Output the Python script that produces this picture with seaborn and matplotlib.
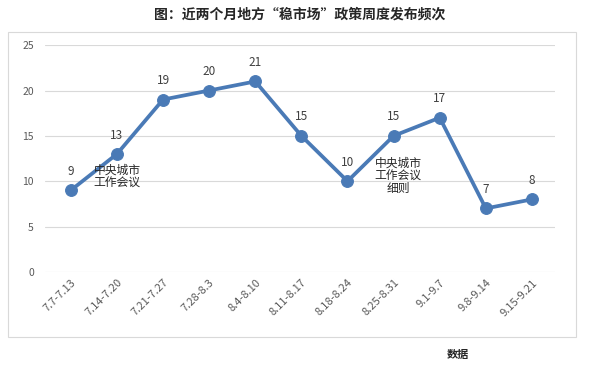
"""Weekly count of local 'stabilise the market' policies over the last two months."""

import matplotlib.pyplot as plt
import pandas as pd
import seaborn as sns
from matplotlib.patches import Rectangle

weeks = ["7.7-7.13", "7.14-7.20", "7.21-7.27", "7.28-8.3", "8.4-8.10", "8.11-8.17",
         "8.18-8.24", "8.25-8.31", "9.1-9.7", "9.8-9.14", "9.15-9.21"]
counts = [9, 13, 19, 20, 21, 15, 10, 15, 17, 7, 8]
y_ticks = [0, 5, 10, 15, 20, 25]

# notes placed in the chart, (x position by week index, y value, text)
notes = [(1, 10.5, "中央城市\n工作会议"), (7.1, 10.6, "中央城市\n工作会议\n细则")]

df = pd.DataFrame({"week": range(len(weeks)), "count": counts})

sns.set_theme(style="white")
plt.rcParams["font.family"] = ["Noto Sans CJK SC", "DejaVu Sans"]

fig = plt.figure(figsize=(6, 3.67), dpi=100)

# light frame around the chart
frame = Rectangle((8 / 600, 1 - 337 / 367), 568 / 600, 305 / 367,
                  transform=fig.transFigure, facecolor="white",
                  edgecolor="#d9d9d9", lw=0.8, zorder=-1)
fig.patches.append(frame)

ax = fig.add_axes([0.075, 0.259, 0.85, 0.618])
ax.set_zorder(2)
ax.patch.set_alpha(0)

line_color = "#4a7ab6"
sns.lineplot(data=df, x="week", y="count", ax=ax, color=line_color, lw=2.7,
             marker="o", markersize=8.5, markeredgecolor=line_color, zorder=3)

for i, v in enumerate(counts):
    ax.annotate(str(v), (i, v), xytext=(0, 9), textcoords="offset points",
                ha="center", va="bottom", fontsize=8.5, color="#404040")

for x, y, txt in notes:
    ax.text(x, y, txt, ha="center", va="center", fontsize=8.5, color="#262626",
            linespacing=1.0, zorder=4)

ax.set_xlim(-0.56, 10.5)
ax.set_ylim(0, 25)
ax.set_yticks(y_ticks)
ax.set_xticks(range(len(weeks)))
ax.set_xticklabels(weeks, rotation=45, ha="right", rotation_mode="anchor",
                   fontsize=8, color="#595959")
ax.tick_params(axis="y", labelsize=7.5, colors="#595959", length=0, pad=8)
ax.tick_params(axis="x", length=0, pad=4)
ax.yaxis.grid(True, color="#d9d9d9", lw=0.8)
ax.set_axisbelow(True)
ax.set_xlabel("")
ax.set_ylabel("")
sns.despine(ax=ax, left=True, bottom=True)

fig.text(0.5, 1 - 15 / 367, "图：近两个月地方“稳市场”政策周度发布频次",
         ha="center", va="center", fontsize=10, fontweight="bold", color="#262626")
fig.text(447 / 600, 1 - 354 / 367, "数据", ha="left", va="center",
         fontsize=8, fontweight="bold", color="#262626")

fig.savefig("out.png", dpi=100)
